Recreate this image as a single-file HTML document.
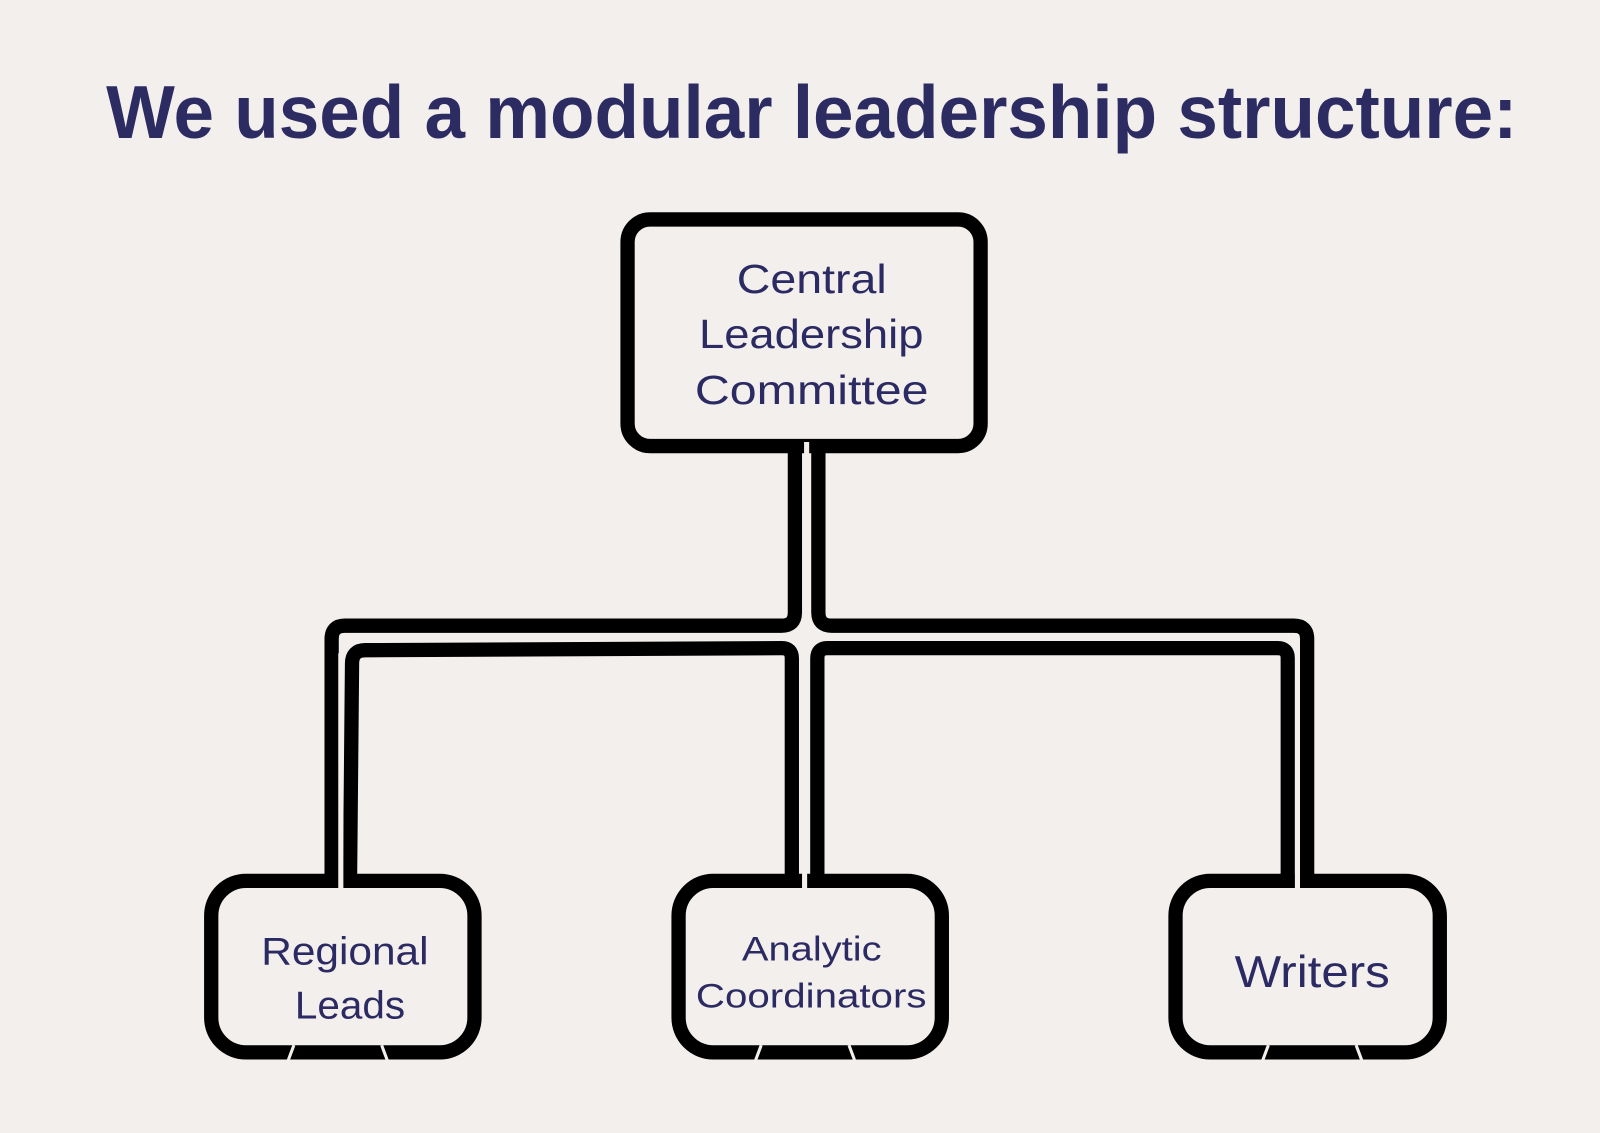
<!DOCTYPE html>
<html><head><meta charset="utf-8"><style>
html,body{margin:0;padding:0;background:#f3efec;}
svg{display:block;}
</style></head><body>
<svg width="1600" height="1133" viewBox="0 0 1568 1110" preserveAspectRatio="none" xmlns="http://www.w3.org/2000/svg">
<rect width="1568" height="1110" fill="#f3efec"/>
<text x="104" y="135" font-family="Liberation Sans, sans-serif" font-weight="bold" font-size="74" fill="#2d2c62" textLength="1383" lengthAdjust="spacingAndGlyphs">We used a modular leadership structure:</text>

<g fill="none" stroke="#000" stroke-width="14" stroke-linejoin="round">
<!-- central box -->
<rect x="615" y="215" width="346" height="222" rx="22"/>
<!-- child boxes -->
<rect x="207" y="863" width="258" height="168" rx="34"/>
<rect x="665" y="863" width="258" height="168" rx="34"/>
<rect x="1152" y="863" width="259" height="168" rx="34"/>
<!-- outer connectors -->
<path d="M779 437 V600 Q779 613 766 613 H338 Q325 613 325 626 V863"/>
<path d="M802 437 V600 Q802 613 815 613 H1268 Q1281 613 1281 626 V863"/>
<!-- inner connectors -->
<path d="M343 863 L345 650 Q345 637 358 637 L766 635 Q776 635 776 645 V863"/>
<path d="M801 863 V645 Q801 635 811 635 H1252 Q1262 635 1262 645 V863"/>
</g>
<g stroke="#f3efec" stroke-width="5" fill="none">
<line x1="790.5" y1="433" x2="790.5" y2="606"/>
<line x1="334" y1="640" x2="334" y2="870"/>
<line x1="788.5" y1="640" x2="788.5" y2="870"/>
<line x1="1271.5" y1="640" x2="1271.5" y2="870"/>
<line x1="790.5" y1="620" x2="790.5" y2="629"/>
</g>
<g stroke="#f3efec" stroke-width="3">
<line x1="288" y1="1024" x2="282" y2="1040"/><line x1="374" y1="1024" x2="380" y2="1040"/>
<line x1="746" y1="1024" x2="740" y2="1040"/><line x1="832" y1="1024" x2="838" y2="1040"/>
<line x1="1243" y1="1024" x2="1237" y2="1040"/><line x1="1329" y1="1024" x2="1335" y2="1040"/>
</g>

<g font-family="Liberation Sans, sans-serif" fill="#2b2a63">
<text x="722" y="287" font-size="40" textLength="147" lengthAdjust="spacingAndGlyphs">Central</text>
<text x="685" y="341" font-size="40" textLength="220" lengthAdjust="spacingAndGlyphs">Leadership</text>
<text x="681" y="396" font-size="40" textLength="229" lengthAdjust="spacingAndGlyphs">Committee</text>
<text x="256" y="945" font-size="38" textLength="164" lengthAdjust="spacingAndGlyphs">Regional</text>
<text x="289" y="998" font-size="38" textLength="108" lengthAdjust="spacingAndGlyphs">Leads</text>
<text x="727" y="941" font-size="34" textLength="137" lengthAdjust="spacingAndGlyphs">Analytic</text>
<text x="682" y="987" font-size="34" textLength="226" lengthAdjust="spacingAndGlyphs">Coordinators</text>
<text x="1210" y="967" font-size="44" textLength="152" lengthAdjust="spacingAndGlyphs">Writers</text>
</g>
</svg>
</body></html>
